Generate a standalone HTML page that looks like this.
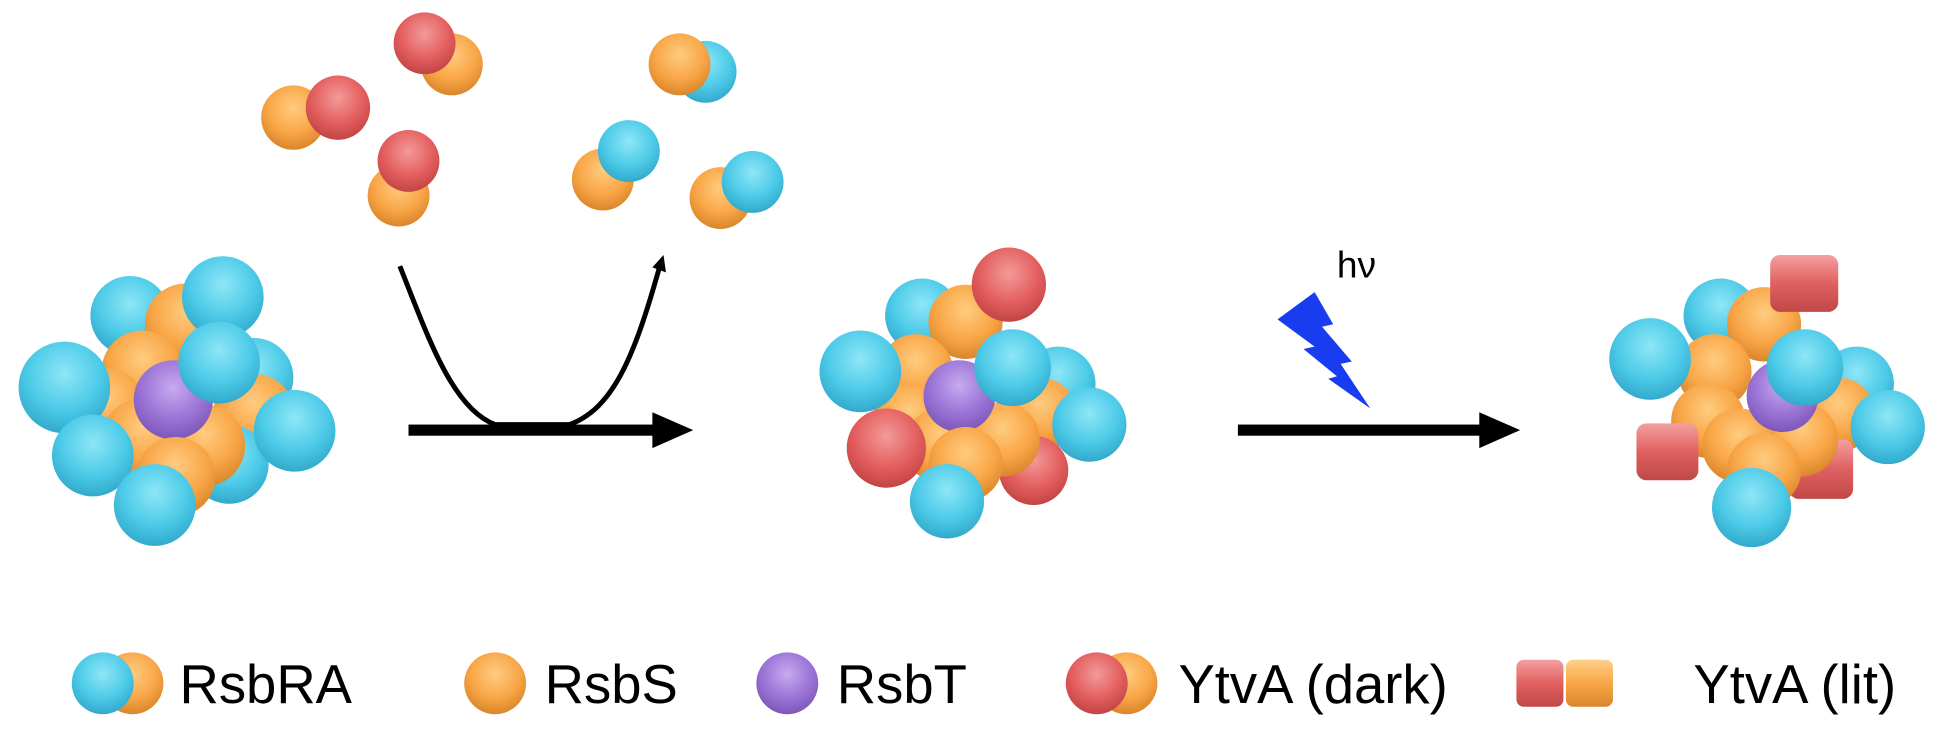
<!DOCTYPE html>
<html><head><meta charset="utf-8"><style>
html,body{margin:0;padding:0;background:#fff;}
svg{display:block;}
text{font-family:"Liberation Sans",sans-serif;}
</style></head><body>
<svg width="1941" height="736" viewBox="0 0 1568 594.6" preserveAspectRatio="none" xmlns="http://www.w3.org/2000/svg">
<defs>
<radialGradient id="gb" cx="50%" cy="35%" r="65%"><stop offset="0" stop-color="#8fe6f7"/><stop offset="0.6" stop-color="#4dcbe8"/><stop offset="1" stop-color="#32a9cc"/></radialGradient>
<radialGradient id="go" cx="50%" cy="35%" r="65%"><stop offset="0" stop-color="#ffcc80"/><stop offset="0.6" stop-color="#f9a647"/><stop offset="1" stop-color="#d9862c"/></radialGradient>
<radialGradient id="gr" cx="50%" cy="35%" r="65%"><stop offset="0" stop-color="#f39a9a"/><stop offset="0.6" stop-color="#e45f5f"/><stop offset="1" stop-color="#c24444"/></radialGradient>
<radialGradient id="gp" cx="50%" cy="35%" r="65%"><stop offset="0" stop-color="#c8aaf0"/><stop offset="0.6" stop-color="#9b74d6"/><stop offset="1" stop-color="#7c57b8"/></radialGradient>
<linearGradient id="sq" x1="0" y1="0" x2="0" y2="1"><stop offset="0" stop-color="#f4a0a0"/><stop offset="0.5" stop-color="#e06060"/><stop offset="1" stop-color="#c04848"/></linearGradient>
<linearGradient id="sqo" x1="0" y1="0" x2="0" y2="1"><stop offset="0" stop-color="#ffd08a"/><stop offset="0.5" stop-color="#f9a647"/><stop offset="1" stop-color="#d9862c"/></linearGradient>
</defs>
<g id="c1">
<circle cx="105" cy="255" r="32" fill="url(#gb)"/>
<circle cx="205" cy="305" r="32" fill="url(#gb)"/>
<circle cx="150" cy="262" r="33" fill="url(#go)"/>
<circle cx="115" cy="300" r="33" fill="url(#go)"/>
<circle cx="85" cy="330" r="33" fill="url(#go)"/>
<circle cx="205" cy="335" r="33" fill="url(#go)"/>
<circle cx="185" cy="375" r="32" fill="url(#gb)"/>
<circle cx="165" cy="360" r="33" fill="url(#go)"/>
<circle cx="115" cy="355" r="33" fill="url(#go)"/>
<circle cx="140" cy="323" r="32" fill="url(#gp)"/>
<circle cx="142" cy="385" r="32" fill="url(#go)"/>
<circle cx="180" cy="240" r="33" fill="url(#gb)"/>
<circle cx="52" cy="313" r="37" fill="url(#gb)"/>
<circle cx="177" cy="293" r="33" fill="url(#gb)"/>
<circle cx="238" cy="348" r="33" fill="url(#gb)"/>
<circle cx="75" cy="368" r="33" fill="url(#gb)"/>
<circle cx="125" cy="408" r="33" fill="url(#gb)"/>
</g>
<circle cx="237" cy="95" r="26" fill="url(#go)"/><circle cx="273" cy="87" r="26" fill="url(#gr)"/>
<circle cx="365" cy="52" r="25" fill="url(#go)"/><circle cx="343" cy="35" r="25" fill="url(#gr)"/>
<circle cx="322" cy="158" r="25" fill="url(#go)"/><circle cx="330" cy="130" r="25" fill="url(#gr)"/>
<circle cx="570" cy="58" r="25" fill="url(#gb)"/><circle cx="549" cy="52" r="25" fill="url(#go)"/>
<circle cx="487" cy="145" r="25" fill="url(#go)"/><circle cx="508" cy="122" r="25" fill="url(#gb)"/>
<circle cx="582" cy="160" r="25" fill="url(#go)"/><circle cx="608" cy="147" r="25" fill="url(#gb)"/>
<path d="M323 215 C345 270 365 330 400 343 L460 343 C495 330 512 290 533 215" fill="none" stroke="#000" stroke-width="4"/>
<path d="M527 216 L536 206 L538 220 Z" fill="#000"/>
<rect x="330" y="343" width="200" height="9" fill="#000"/>
<path d="M527 333 L560 347.5 L527 362 Z" fill="#000"/>
<rect x="1000" y="343" width="197" height="9" fill="#000"/>
<path d="M1195 333 L1228 347.5 L1195 362 Z" fill="#000"/>
<text x="1080" y="224" font-size="30">hν</text>
<path d="M1032 258 L1062 236 L1077 262 L1068 264 L1092 292 L1083 294 L1107 330 L1073 306 L1080 304 L1053 282 L1062 280 Z" fill="#1a3cf0"/>
<g>
<circle cx="745" cy="255" r="30" fill="url(#gb)"/>
<circle cx="855" cy="310" r="30" fill="url(#gb)"/>
<circle cx="780" cy="260" r="30" fill="url(#go)"/>
<circle cx="740" cy="300" r="30" fill="url(#go)"/>
<circle cx="735" cy="340" r="30" fill="url(#go)"/>
<circle cx="840" cy="335" r="30" fill="url(#go)"/>
<circle cx="835" cy="380" r="28" fill="url(#gr)"/>
<circle cx="810" cy="355" r="30" fill="url(#go)"/>
<circle cx="760" cy="360" r="30" fill="url(#go)"/>
<circle cx="775" cy="320" r="29" fill="url(#gp)"/>
<circle cx="780" cy="375" r="30" fill="url(#go)"/>
<circle cx="815" cy="230" r="30" fill="url(#gr)"/>
<circle cx="695" cy="300" r="33" fill="url(#gb)"/>
<circle cx="818" cy="297" r="31" fill="url(#gb)"/>
<circle cx="880" cy="343" r="30" fill="url(#gb)"/>
<circle cx="716" cy="362" r="32" fill="url(#gr)"/>
<circle cx="765" cy="405" r="30" fill="url(#gb)"/>
</g>
<g>
<circle cx="1390" cy="255" r="30" fill="url(#gb)"/>
<circle cx="1500" cy="310" r="30" fill="url(#gb)"/>
<circle cx="1425" cy="262" r="30" fill="url(#go)"/>
<circle cx="1385" cy="300" r="30" fill="url(#go)"/>
<circle cx="1380" cy="340" r="30" fill="url(#go)"/>
<circle cx="1485" cy="335" r="30" fill="url(#go)"/>
<rect x="1445" y="355" width="52" height="48" rx="8" fill="url(#sq)"/>
<circle cx="1455" cy="355" r="30" fill="url(#go)"/>
<circle cx="1405" cy="360" r="30" fill="url(#go)"/>
<circle cx="1440" cy="320" r="29" fill="url(#gp)"/>
<circle cx="1425" cy="380" r="30" fill="url(#go)"/>
<rect x="1430" y="206" width="55" height="46" rx="8" fill="url(#sq)"/>
<circle cx="1333" cy="290" r="33" fill="url(#gb)"/>
<circle cx="1458" cy="297" r="31" fill="url(#gb)"/>
<circle cx="1525" cy="345" r="30" fill="url(#gb)"/>
<rect x="1322" y="342" width="50" height="46" rx="8" fill="url(#sq)"/>
<circle cx="1415" cy="410" r="32" fill="url(#gb)"/>
</g>
<circle cx="107" cy="552" r="25" fill="url(#go)"/><circle cx="83" cy="552" r="25" fill="url(#gb)"/>
<text x="145" y="568" font-size="44">RsbRA</text>
<circle cx="400" cy="552" r="25" fill="url(#go)"/>
<text x="440" y="568" font-size="44">RsbS</text>
<circle cx="636" cy="552" r="25" fill="url(#gp)"/>
<text x="676" y="568" font-size="44">RsbT</text>
<circle cx="910" cy="552" r="25" fill="url(#go)"/><circle cx="886" cy="552" r="25" fill="url(#gr)"/>
<text x="952" y="568" font-size="44">YtvA (dark)</text>
<rect x="1225" y="533" width="38" height="38" rx="6" fill="url(#sq)"/>
<rect x="1265" y="533" width="38" height="38" rx="6" fill="url(#sqo)"/>
<text x="1368" y="568" font-size="44">YtvA (lit)</text>
</svg>
</body></html>
